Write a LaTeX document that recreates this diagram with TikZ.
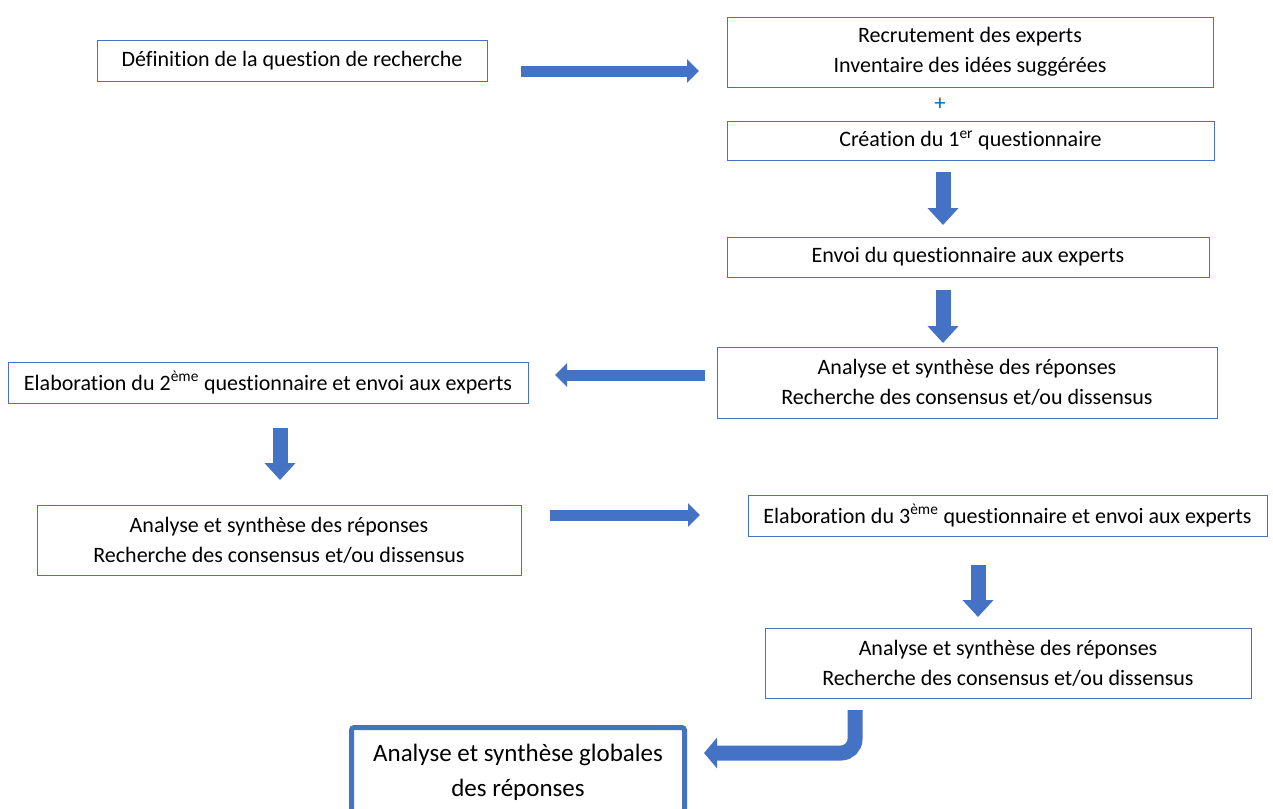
\documentclass[tikz,border=0pt]{standalone}
\usepackage{fontspec}
\setmainfont{Carlito}[Ligatures=NoCommon]
\usetikzlibrary{arrows.meta}

\definecolor{boxblue}{RGB}{68,114,196}
\definecolor{plusblue}{RGB}{0,112,192}

\tikzset{every picture/.style={line width=0.75pt}}
\tikzset{
  stepbox/.style={draw=boxblue, line width=0.75pt, fill=white, inner sep=0pt, align=center,
    font=\fontsize{16.5}{22.5}\selectfont},
  hflow/.style={draw=boxblue, line width=8.25pt, -{Triangle[width=17.25pt,length=9pt]}},
  vflow/.style={draw=boxblue, line width=11.25pt, -{Triangle[width=22.5pt,length=12.75pt]}}
}

\begin{document}
\begin{tikzpicture}[x=0.75pt,y=0.75pt,yscale=-1,xscale=1]
\useasboundingbox (0,0) rectangle (1273,808);
\fill [white] (0,0) rectangle (1273,808);

%Boxes
\node [stepbox, minimum width=292.5pt, minimum height=30.75pt] (def) at (292,60.5) {Définition de la question de recherche};
\node [stepbox, minimum width=364.5pt, minimum height=52.5pt] (recr) at (970,52) {Recrutement des experts\\Inventaire des idées suggérées};
\node [text=plusblue, font=\fontsize{17}{20}\selectfont, inner sep=0pt] (plus) at (940,104) {+};
\node [stepbox, minimum width=365.25pt, minimum height=29.25pt] (crea) at (970.5,140.5) {Création du 1\textsuperscript{er} questionnaire};
\node [stepbox, minimum width=361.5pt, minimum height=30pt] (envoi) at (968,257) {Envoi du questionnaire aux experts};
\node [stepbox, minimum width=375pt, minimum height=53.25pt] (ana1) at (967,382.5) {Analyse et synthèse des réponses\\Recherche des consensus et/ou dissensus};
\node [stepbox, minimum width=390pt, minimum height=30.75pt] (elab2) at (268,382.5) {Elaboration du 2\textsuperscript{ème} questionnaire et envoi aux experts};
\node [stepbox, minimum width=363pt, minimum height=52.5pt] (ana2) at (279,540) {Analyse et synthèse des réponses\\Recherche des consensus et/ou dissensus};
\node [stepbox, minimum width=389.25pt, minimum height=30.75pt] (elab3) at (1007.5,515.5) {Elaboration du 3\textsuperscript{ème} questionnaire et envoi aux experts};
\node [stepbox, minimum width=364.5pt, minimum height=52.5pt] (ana3) at (1008,663) {Analyse et synthèse des réponses\\Recherche des consensus et/ou dissensus};
\node [stepbox, line width=3.75pt, rounded corners=2pt, minimum width=249.75pt, minimum height=66.75pt,
  font=\fontsize{18.75}{26.25}\selectfont] (glob) at (518,772) {Analyse et synthèse globales\\des réponses};

%Arrow ends
\coordinate (a1s) at (521,71);  \coordinate (a1e) at (699,71);
\coordinate (d1s) at (943,172); \coordinate (d1e) at (943,225);
\coordinate (d2s) at (943,290); \coordinate (d2e) at (943,343);
\coordinate (l1s) at (705,375); \coordinate (l1e) at (555,375);
\coordinate (d3s) at (280,428); \coordinate (d3e) at (280,480);
\coordinate (r1s) at (550,515); \coordinate (r1e) at (700,515);
\coordinate (d4s) at (978,565); \coordinate (d4e) at (978,617);
\coordinate (bs) at (855,710);  \coordinate (bk) at (855,753); \coordinate (be) at (704,753);

%Block arrows
\draw [hflow] (a1s) -- (a1e);
\draw [vflow] (d1s) -- (d1e);
\draw [vflow] (d2s) -- (d2e);
\draw [hflow] (l1s) -- (l1e);
\draw [vflow] (d3s) -- (d3e);
\draw [hflow] (r1s) -- (r1e);
\draw [vflow] (d4s) -- (d4e);
\draw [vflow, rounded corners=10.5pt, -{Triangle[width=22.5pt,length=9.75pt]}] (bs) -- (bk) -- (be);

\end{tikzpicture}
\end{document}
